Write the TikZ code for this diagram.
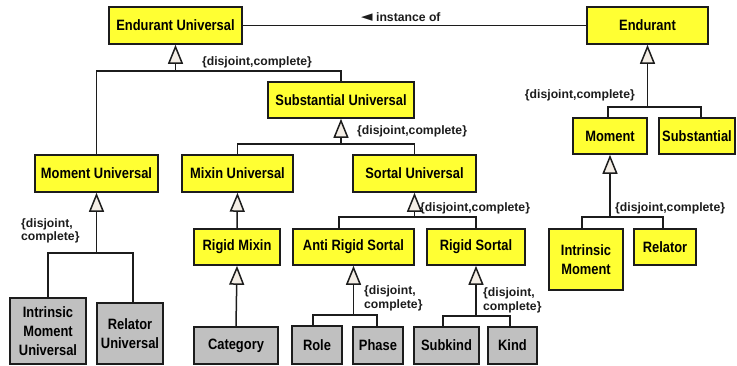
\documentclass[tikz,border=0pt]{standalone}
\usepackage{fontspec}
\setmainfont{Liberation Sans}
\newfontfamily\boxfont{Liberation Sans}[FakeStretch=0.86]
\newfontfamily\lblfont{Liberation Sans}
\newfontfamily\symfont{DejaVu Sans}
\usetikzlibrary{arrows.meta}
\definecolor{ylw}{RGB}{255,255,51}
\definecolor{gry}{RGB}{192,192,192}
\definecolor{edge}{RGB}{28,28,28}
\definecolor{tri}{RGB}{244,238,230}
\tikzset{
  cbox/.style={draw=edge, line width=1.6pt, inner sep=0pt, align=center,
    font=\boxfont\bfseries\fontsize{15}{19}\selectfont, text=black},
  ybox/.style={cbox, fill=ylw},
  gbox/.style={cbox, fill=gry},
  conn/.style={draw=edge, line width=1.5pt},
  gen/.style={conn, -{Triangle[width=15pt,length=19pt,fill=tri]}},
  lbl/.style={font=\lblfont\bfseries\fontsize{12.2}{13.5}\selectfont, text=edge, inner sep=0pt},
}
\begin{document}
\begin{tikzpicture}[x=1pt,y=-1pt]
\useasboundingbox (0,0) rectangle (737,365);
% nodes
\node[ybox, minimum width=133, minimum height=37] (eu) at (175.5,25.5) {Endurant Universal};
\node[ybox, minimum width=121, minimum height=37] (end) at (647.5,25.5) {Endurant};
\node[ybox, minimum width=146, minimum height=36] (su) at (341,100) {Substantial Universal};
\node[ybox, minimum width=123, minimum height=37] (mu) at (96.5,173.5) {Moment Universal};
\node[ybox, minimum width=111, minimum height=37] (mxu) at (237.5,173.5) {Mixin Universal};
\node[ybox, minimum width=123, minimum height=37] (sou) at (414.5,173.5) {Sortal Universal};
\node[ybox, minimum width=86, minimum height=36] (rm) at (237,247) {Rigid Mixin};
\node[ybox, minimum width=121, minimum height=36] (ars) at (353.5,247) {Anti Rigid Sortal};
\node[ybox, minimum width=98, minimum height=36] (rs) at (476,247) {Rigid Sortal};
\node[ybox, minimum width=74, minimum height=36] (mom) at (610,136) {Moment};
\node[ybox, minimum width=76, minimum height=36] (sub) at (697,136) {Substantial};
\node[ybox, minimum width=74, minimum height=61] (im) at (586,259.5) {Intrinsic\\Moment};
\node[ybox, minimum width=62, minimum height=36] (rel) at (665,247) {Relator};
\node[gbox, minimum width=76, minimum height=66] (imu) at (48,331) {Intrinsic\\Moment\\Universal};
\node[gbox, minimum width=66, minimum height=61] (ru) at (130,333.5) {Relator\\Universal};
\node[gbox, minimum width=84, minimum height=37] (cat) at (236,345.5) {Category};
\node[gbox, minimum width=50, minimum height=38] (role) at (317,345) {Role};
\node[gbox, minimum width=50, minimum height=37] (phase) at (378,345.5) {Phase};
\node[gbox, minimum width=65, minimum height=37] (subk) at (446.5,345.5) {Subkind};
\node[gbox, minimum width=49, minimum height=37] (kind) at (512.5,345.5) {Kind};
% instance of
\draw[conn] (eu.east) -- (end.west);
\node[lbl, anchor=west] (inst) at (361,17) {{\symfont\fontsize{15}{15}\selectfont ◄} instance of};
% bar coordinates
\coordinate (b1) at (175.5,71);
\coordinate (b2) at (341,144);
\coordinate (b3) at (96.5,253);
\coordinate (b4) at (414.5,217);
\coordinate (b5) at (353.5,315);
\coordinate (b6) at (476,316);
\coordinate (b7) at (647.5,107);
\coordinate (b8) at (610,217);
% Endurant Universal
\draw[conn] (mu.north) |- (b1) -| (su.north);
\draw[gen] (b1) -- (eu.south);
\node[lbl] (l1) at (257,62) {\{disjoint,complete\}};
% Substantial Universal
\draw[conn] (mxu.north) |- (b2) -| (sou.north);
\draw[gen] (b2) -- (su.south);
\node[lbl, anchor=west] (l2) at (357,131) {\{disjoint,complete\}};
% Moment Universal
\draw[conn] (imu.north) |- (b3) -| ([xshift=3pt]ru.north);
\draw[gen] (b3) -- (mu.south);
\node[lbl, anchor=west, align=left] (l3) at (21,231) {\{disjoint,\\complete\}};
% Mixin
\draw[gen] (rm.north) -- (mxu.south);
\draw[gen] (cat.north) -- (rm.south);
% Sortal Universal
\draw[conn] ([xshift=-14.5pt]ars.north) |- (b4) -| (rs.north);
\draw[gen] (b4) -- (sou.south);
\node[lbl, anchor=west] (l4) at (420,208) {\{disjoint,complete\}};
% Anti Rigid Sortal
\draw[conn] ([xshift=-4pt]role.north) |- (b5) -| ([xshift=-1pt]phase.north);
\draw[gen] (b5) -- (ars.south);
\node[lbl, anchor=west, align=left] (l5) at (364,298.5) {\{disjoint,\\complete\}};
% Rigid Sortal
\draw[conn] ([xshift=-3.5pt]subk.north) |- (b6) -| ([xshift=-2.5pt]kind.north);
\draw[gen] (b6) -- (rs.south);
\node[lbl, anchor=west, align=left] (l6) at (483,300.5) {\{disjoint,\\complete\}};
% Endurant
\draw[conn] ([xshift=-2pt]mom.north) |- (b7) -| ([xshift=4pt]sub.north);
\draw[gen] (b7) -- (end.south);
\node[lbl, anchor=east] (l7) at (635,95) {\{disjoint,complete\}};
% Moment
\draw[conn] ([xshift=-4pt]im.north) |- (b8) -| ([xshift=-2pt]rel.north);
\draw[gen] (b8) -- (mom.south);
\node[lbl, anchor=west] (l8) at (615,208) {\{disjoint,complete\}};
\end{tikzpicture}
\end{document}
